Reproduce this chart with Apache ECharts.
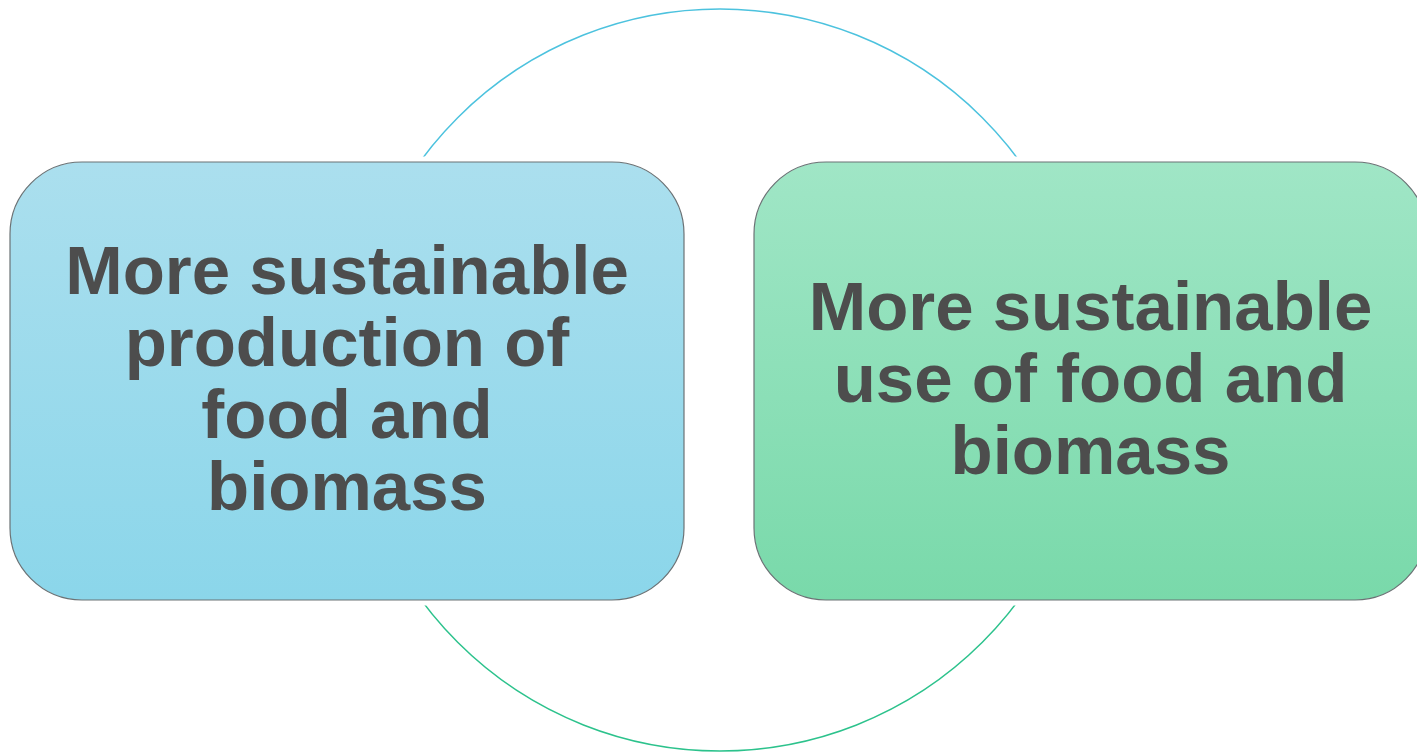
<!DOCTYPE html>
<html>
<head>
<meta charset="utf-8">
<script src="https://cdn.jsdelivr.net/npm/echarts@6/dist/echarts.min.js"></script>
<style>html,body{margin:0;padding:0;background:#fff;}#c{width:1417px;height:752px;}</style>
</head>
<body>
<div id="c"></div>
<script>
// Diagram content
const boxLabels = ["More sustainable\nproduction of\nfood and\nbiomass", "More sustainable\nuse of food and\nbiomass"];
const boxTopColors = ["#ABDFEE", "#A0E6C6"];
const boxBottomColors = ["#8BD6EA", "#79D9AA"];
const circleColors = ["#4CC2DE", "#2CC28C"];

const chart = echarts.init(document.getElementById('c'), null, {renderer: 'canvas'});
const cx = 720, cy = 380, R = 371;
const boxes = [
  {x: 10, y: 162, w: 674, h: 438},
  {x: 754, y: 162, w: 673, h: 438}
];
const elements = [];
elements.push({
  type: 'circle',
  shape: {cx: cx, cy: cy, r: R},
  style: {
    fill: null,
    stroke: new echarts.graphic.LinearGradient(0, 0, 0, 1, [
      {offset: 0, color: circleColors[0]},
      {offset: 0.45, color: circleColors[0]},
      {offset: 0.55, color: circleColors[1]},
      {offset: 1, color: circleColors[1]}
    ]),
    lineWidth: 1.5
  },
  z: 1
});
boxes.forEach((b, i) => {
  // white halo separating the ring from the box
  elements.push({
    type: 'rect',
    shape: {x: b.x, y: b.y, width: b.w, height: b.h, r: 72},
    style: {fill: '#ffffff', stroke: '#ffffff', lineWidth: 11},
    z: 2
  });
  elements.push({
    type: 'rect',
    shape: {x: b.x, y: b.y, width: b.w, height: b.h, r: 72},
    style: {
      fill: new echarts.graphic.LinearGradient(0, 0, 0, 1, [
        {offset: 0, color: boxTopColors[i]},
        {offset: 1, color: boxBottomColors[i]}
      ]),
      stroke: '#6b7275',
      lineWidth: 1.2
    },
    z: 3
  });
  elements.push({
    type: 'text',
    x: b.x + b.w / 2,
    y: b.y + b.h / 2 + 2,
    style: {
      text: boxLabels[i],
      fill: '#4D4D4D',
      font: 'bold 69px "Liberation Sans", Arial, sans-serif',
      align: 'center',
      verticalAlign: 'middle',
      lineHeight: 72
    },
    z: 4
  });
});
chart.setOption({
  animation: false,
  backgroundColor: '#ffffff',
  graphic: {elements: elements}
});
</script>
</body>
</html>
